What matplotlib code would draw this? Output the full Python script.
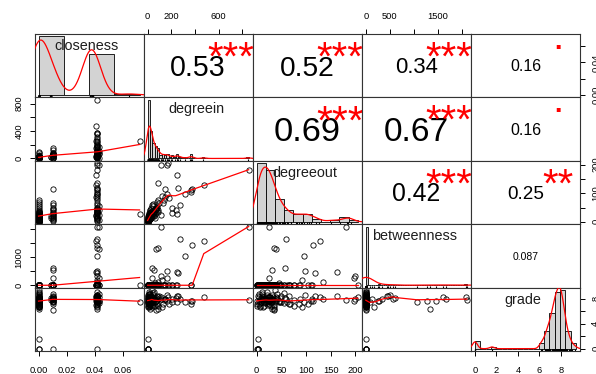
import numpy as np
import matplotlib
matplotlib.use("Agg")
import matplotlib.pyplot as plt
from matplotlib.transforms import offset_copy

plt.rcParams['font.family'] = ['Liberation Sans', 'DejaVu Sans']

names = ["closeness", "degreein", "degreeout", "betweenness", "grade"]

# 106 observations: closeness 0 group, ~0.01 group, ~0.042 group, one at 0.072
closeness = ([0.0] * 44
             + [0.010] * 16 + [0.009] * 2
             + [0.042, 0.043, 0.042, 0.041, 0.042, 0.042, 0.043, 0.042, 0.042, 0.041,
                0.042, 0.042, 0.043, 0.042, 0.042, 0.042, 0.042, 0.042, 0.042, 0.042,
                0.042, 0.042, 0.042, 0.041, 0.042, 0.042, 0.043, 0.042, 0.042, 0.042,
                0.041, 0.042, 0.042, 0.042, 0.043, 0.042, 0.042, 0.042, 0.042, 0.042,
                0.041, 0.042, 0.042]
             + [0.072])

degreein = ([0, 0, 0, 1, 1, 2, 2, 3, 3, 4, 4, 5, 5, 6, 6, 7, 8, 8, 9, 10, 10, 11,
             12, 13, 14, 15, 16, 17, 18, 19, 20, 21, 22, 23, 24, 26, 29, 31, 34, 38,
             42, 47, 80, 88]
            + [40, 57, 40, 150, 130, 78, 68, 85, 70, 60, 45, 30, 20, 10, 5, 0, 25, 15]
            + [855, 110, 278, 475, 377, 90, 72, 315, 166, 250, 259, 110, 166, 120, 85,
               60, 363, 208, 236, 180, 202, 170, 369, 150, 135, 95, 80, 70, 55, 45, 35,
               25, 18, 12, 8, 5, 30, 40, 65, 20, 15, 50, 22]
            + [250])

degreeout = ([0, 2, 3, 0, 5, 1, 12, 1, 8, 2, 16, 4, 21, 6, 9, 14, 5, 25, 11, 7, 19,
              30, 10, 23, 13, 27, 17, 36, 15, 22, 31, 20, 42, 24, 28, 33, 26, 48, 38,
              35, 62, 55, 68, 75]
             + [58, 30, 25, 113, 65, 50, 45, 40, 35, 28, 22, 18, 15, 10, 8, 3, 12, 20]
             + [182, 25, 60, 128, 114, 35, 40, 96, 98, 162, 118, 199, 197, 92, 135, 45,
                104, 32, 42, 85, 49, 205, 110, 87, 75, 65, 55, 48, 38, 30, 22, 18, 12,
                8, 5, 3, 26, 33, 14, 40, 24, 20, 10]
             + [28])

betweenness = ([0] * 44
               + [600, 560, 270] + [0] * 15
               + [2100, 2080, 1660, 1600, 1450, 1330, 1280, 1060, 500, 460, 440, 330,
                  250, 180, 120, 80] + [0] * 27
               + [0])

grade = ([0.0, 0.0, 1.6, 7.6, 8.2, 7.1, 8.0, 6.8, 7.9, 8.4, 7.3, 7.7, 8.6, 6.6, 8.1,
          7.5, 7.2, 8.3, 7.8, 6.9, 8.0, 7.4, 9.0, 7.6, 6.7, 8.2, 7.9, 7.0, 8.1, 7.3,
          6.3, 7.7, 8.7, 7.2, 6.8, 7.8, 8.3, 7.5, 9.4, 6.6, 7.4, 8.9, 7.1, 6.9]
         + [8.1, 7.9, 7.6, 8.0, 7.2, 8.5, 7.7, 8.3, 6.2, 7.9, 8.2, 7.5, 8.0, 8.7, 7.4,
            0.0, 7.8, 8.1]
         + [7.8, 8.3, 8.0, 8.3, 7.7, 6.3, 7.6, 7.4, 8.6, 8.4, 8.5, 8.0, 7.7, 6.7, 8.0,
            7.4, 7.1, 7.9, 8.1, 7.2, 7.5, 8.2, 7.6, 8.0, 7.8, 8.4, 7.3, 8.1, 7.7, 8.6,
            7.0, 7.9, 8.2, 7.5, 8.8, 0.0, 7.8, 8.3, 6.9, 8.0, 7.6, 9.1, 8.4]
         + [7.4])

# upper triangle, row by row
cor_vals = [0.53, 0.52, 0.34, 0.16, 0.69, 0.67, 0.16, 0.42, 0.25, 0.087]
cor_stars = ["***", "***", "***", ".", "***", "***", ".", "***", "**", ""]

ticks = [[0, 0.02, 0.04, 0.06], [0, 200, 400, 600, 800], [0, 50, 100, 150, 200],
         [0, 500, 1000, 1500, 2000], [0, 2, 4, 6, 8]]
col_labels = [["0.00", "0.02", "0.04", "0.06"], ["0", "200", "", "600", ""],
              ["0", "50", "100", "150", "200"], ["0", "500", "", "1500", ""],
              ["0", "2", "4", "6", "8"]]
row_labels = [["0.00", "", "0.04", ""], ["0", "", "400", "", "800"],
              ["0", "", "100", "", "200"], ["0", "", "1000", "", ""],
              ["0", "", "4", "", "8"]]
bin_width = [0.02, 20, 20, 50, 0.5]


def lowess(x, y, f=2/3, it=3):
    o = np.argsort(x, kind="mergesort")
    x, y = x[o], y[o]
    n = len(x)
    ns = max(min(int(f * n + 1e-7), n), 2)
    rng = x[-1] - x[0]
    rw = np.ones(n)
    fit = np.empty(n)
    for k in range(it + 1):
        for i in range(n):
            d = np.abs(x - x[i])
            h = np.sort(d)[ns - 1]
            if h > 0:
                q = d / h
                w = np.where(q <= 0.999, (1 - q**3)**3, 0.0)
                w[q <= 0.001] = 1.0
            else:
                w = (d == 0).astype(float)
            w = w * rw
            if w.sum() <= 0:
                fit[i] = y[i]
                continue
            w = w / w.sum()
            a = np.sum(w * x)
            c = np.sum(w * (x - a)**2)
            if h > 0 and np.sqrt(c) > 0.001 * rng:
                b = (x[i] - a) / c
                fit[i] = np.sum(w * (b * (x - a) + 1) * y)
            else:
                fit[i] = np.sum(w * y)
        if k == it:
            break
        res = y - fit
        cmad = 6 * np.median(np.abs(res))
        if cmad <= 1e-7 * np.mean(np.abs(res)):
            break
        u = np.abs(res) / cmad
        rw = np.where(u < 1, (1 - u**2)**2, 0.0)
        rw[u <= 0.001] = 1.0
    return x, fit


def kde(v):
    n = len(v)
    sd = v.std(ddof=1)
    q75, q25 = np.percentile(v, [75, 25])
    lo = min(sd, (q75 - q25) / 1.34)
    if lo <= 0:
        lo = sd
    bw = 0.9 * lo * n ** -0.2
    g = np.linspace(v.min() - 3 * bw, v.max() + 3 * bw, 512)
    d = np.exp(-0.5 * ((g[:, None] - v[None, :]) / bw)**2).sum(1) / (n * bw * np.sqrt(2 * np.pi))
    return g, d


data = [np.array(v, float) for v in [closeness, degreein, degreeout, betweenness, grade]]
nv = len(data)

fig, axes = plt.subplots(nv, nv, figsize=(5.96, 3.74), dpi=100,
                         gridspec_kw=dict(left=34.5/596, right=580/596, top=1-34/374,
                                          bottom=1-351/374, wspace=0, hspace=0))

lims = []
for v in data:
    pad = 0.04 * (v.max() - v.min())
    lims.append((v.min() - pad, v.max() + pad))

tick_kw = dict(length=3.6, width=0.7, labelsize=6.7, colors="black")

for i in range(nv):
    for j in range(nv):
        ax = axes[i, j]
        ax.set_xlim(lims[j])
        ax.set_ylim(lims[i])
        ax.tick_params(bottom=False, top=False, left=False, right=False,
                       labelbottom=False, labeltop=False, labelleft=False, labelright=False)
        for s in ax.spines.values():
            s.set_linewidth(0.8)
            s.set_color("#333333")
        if i == 0 and j % 2 == 1:
            ax.set_xticks(ticks[j], col_labels[j])
            ax.tick_params(axis="x", top=True, labeltop=True, pad=6, **tick_kw)
        if i == nv - 1 and j % 2 == 0:
            ax.set_xticks(ticks[j], col_labels[j])
            ax.tick_params(axis="x", bottom=True, labelbottom=True, pad=7, **tick_kw)
        if j == 0 and i % 2 == 1:
            ax.set_yticks(ticks[i], row_labels[i])
            ax.tick_params(axis="y", left=True, labelleft=True, pad=4.5,
                           labelrotation=90, **tick_kw)
        if j == nv - 1 and i % 2 == 0:
            ax.set_yticks(ticks[i], row_labels[i])
            ax.tick_params(axis="y", right=True, labelright=True, pad=4.5,
                           labelrotation=90, **tick_kw)
        for lab in ax.get_yticklabels():
            lab.set_va("center")

        if i > j:
            x, y = data[j], data[i]
            ax.plot(x, y, "o", mfc="none", mec="black", ms=3.8, mew=0.6, zorder=2)
            lx, ly = lowess(x, y)
            ax.plot(lx, ly, color="red", lw=0.9, zorder=3)
        elif i == j:
            v = data[i]
            w = bin_width[i]
            nb = int(np.ceil(round(v.max() / w, 6)))
            edges = np.linspace(0, nb * w, nb + 1)
            cnt, _ = np.histogram(v, edges)
            dens = cnt / (len(v) * w)
            hax = ax.inset_axes([0, 0, 1, 1])
            hax.set_axis_off()
            hax.bar(edges[:-1], dens, width=w, align="edge", color="#d3d3d3",
                    edgecolor="black", lw=0.6)
            g, d = kde(v)
            hax.plot(g, d, color="red", lw=0.9)
            hax.vlines(v, 0, 0.03, transform=hax.get_xaxis_transform(), color="black", lw=0.8)
            xp = 0.04 * (edges[-1] - edges[0])
            hax.set_xlim(edges[0] - xp, edges[-1] + xp)
            hax.set_ylim(-0.04 * dens.max(), 1.04 * dens.max())
            hax.text(0.48, 0.81, names[i], transform=hax.transAxes, ha="center",
                     va="center", fontsize=10.4, color="#1e1e1e")

rend = fig.canvas.get_renderer()
k = 0
for i in range(nv):
    for j in range(i + 1, nv):
        ax = axes[i, j]
        r = cor_vals[k]
        sig = cor_stars[k]
        k += 1
        txt = f"{r:.2g}"
        probe = ax.text(0, 0, txt, fontsize=10)
        tw = probe.get_window_extent(rend).width
        probe.remove()
        pw = ax.get_window_extent(rend).width
        base = 10 * 0.8 * pw / tw
        fs = base * (abs(r) + 0.3) / 1.3
        ax.text(0.5, 0.5, txt, fontsize=fs, ha="center", va="baseline",
                transform=offset_copy(ax.transAxes, fig=fig, y=-0.35 * fs, units="points"))
        if sig:
            sfs = 0.9 * base
            off = 0.57 if "*" in sig else 0.05
            ax.text(0.8, 0.8, sig, fontsize=sfs, color="red", ha="center", va="baseline",
                    transform=offset_copy(ax.transAxes, fig=fig, y=-off * sfs, units="points"))

fig.savefig("out.png", dpi=100)
